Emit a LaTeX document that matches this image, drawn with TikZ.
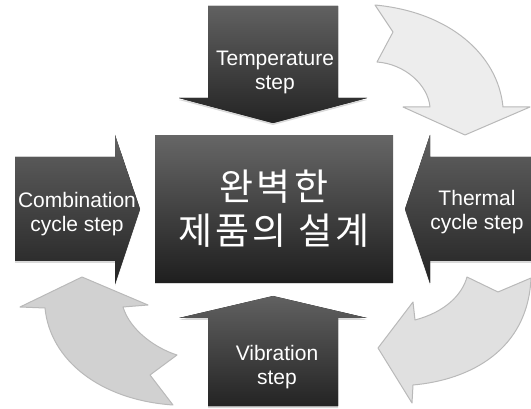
\documentclass[tikz,border=0pt]{standalone}
\usepackage{fontspec}
\setmainfont{Liberation Sans}
\newfontfamily\krfont[LetterSpace=9]{Noto Sans CJK KR}
\usetikzlibrary{shadows}

\tikzset{
  darkshape/.style={top color=black!62,bottom color=black!86,
    drop shadow={shadow xshift=0pt,shadow yshift=-2pt,opacity=.3}},
  lightturn/.style={draw=gray!55,line width=1pt,line join=round},
  corebox/.style={top color=black!60,bottom color=black!88,minimum width=238pt,
    minimum height=147pt,text=white!94,align=center,inner sep=0pt,
    font=\krfont\fontsize{37}{44}\selectfont,
    drop shadow={shadow xshift=0pt,shadow yshift=-2pt,opacity=.3}},
  steplabel/.style={text=white!94,align=center,inner sep=0pt,
    font=\fontsize{21}{24}\selectfont},
}

\begin{document}
\begin{tikzpicture}[x=1pt,y=-1pt]
  \useasboundingbox (0,0) rectangle (531,409);

  \draw[lightturn,fill=gray!14] (375,5) -- (393,32) -- (377,62)
    .. controls (405,64) and (428,85) .. (430,107) -- (403,107) -- (465,135)
    -- (530,107) -- (503,107) .. controls (498,55) and (450,12) .. (375,5) -- cycle;
  \draw[lightturn,fill=gray!24] (467,277) -- (498,292) -- (531,278)
    .. controls (528,350) and (470,380) .. (413,385) -- (412,403) -- (378,348)
    -- (413,302) -- (415,320) .. controls (445,312) and (462,295) .. (467,277) -- cycle;
  \draw[lightturn,fill=gray!36] (82,277) -- (148,305) -- (123,307)
    .. controls (130,330) and (155,348) .. (177,355) -- (150,375) -- (173,405)
    .. controls (100,400) and (50,360) .. (45,308) -- (20,307) -- cycle;

  \fill[darkshape] (208,6) -- (338,6) -- (338,98) -- (367,98) -- (273,123)
    -- (179,98) -- (208,98) -- cycle;
  \fill[darkshape] (208,406) -- (208,318) -- (179,318) -- (273,296)
    -- (367,318) -- (338,318) -- (338,406) -- cycle;
  \fill[darkshape] (15,157) -- (115,157) -- (115,135) -- (140,209)
    -- (115,284) -- (115,261) -- (15,261) -- cycle;
  \fill[darkshape] (531,157) -- (430,157) -- (430,135) -- (405,209)
    -- (430,283) -- (430,261) -- (531,261) -- cycle;

  \node[corebox] (core) at (274,209) {완벽한\\제품의 설계};
  \node[steplabel] (temp) at (275,72) {Temperature\\step};
  \node[steplabel] (comb) at (77,214) {Combination\\cycle step};
  \node[steplabel] (therm) at (477,212) {Thermal\\cycle step};
  \node[steplabel] (vib) at (277,367) {Vibration\\step};
\end{tikzpicture}
\end{document}
